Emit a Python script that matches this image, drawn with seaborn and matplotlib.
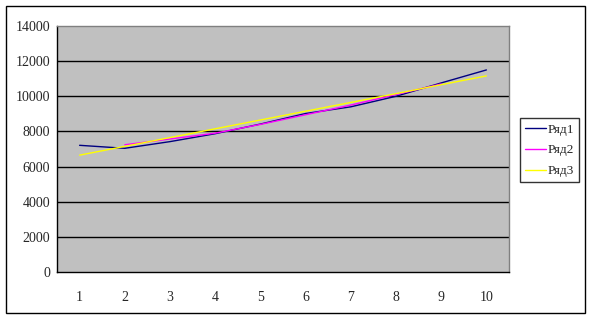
import numpy as np
import pandas as pd
import matplotlib
matplotlib.use("Agg")
import matplotlib.pyplot as plt
from matplotlib.patches import Rectangle
import seaborn as sns

# ---- data ----
categories = [1, 2, 3, 4, 5, 6, 7, 8, 9, 10]
series_names = ["Ряд1", "Ряд2", "Ряд3"]
ryad1 = [7210, 7040, 7420, 7870, 8420, 9020, 9400, 10000, 10760, 11500]
ryad2 = [np.nan, 7240, 7570, 7900, 8400, 8950, 9500, 10100, 10700, np.nan]
ryad3 = [6650, 7150, 7650, 8150, 8650, 9150, 9650, 10150, 10660, 11160]
y_ticks = [0, 2000, 4000, 6000, 8000, 10000, 12000, 14000]
colors = ["#000080", "#FF00FF", "#FFFF00"]

df = pd.DataFrame({
    "x": categories * 3,
    "y": ryad1 + ryad2 + ryad3,
    "series": [series_names[0]] * 10 + [series_names[1]] * 10 + [series_names[2]] * 10,
})

sns.set_style("white")
plt.rcParams["font.family"] = ["Liberation Serif", "DejaVu Serif"]

fig = plt.figure(figsize=(5.91, 3.19), dpi=100)
ax = fig.add_axes([57 / 591, 47 / 319, 452 / 591, 246 / 319])
ax.set_facecolor("#C0C0C0")

for t in y_ticks[1:-1]:
    ax.axhline(t, color="black", lw=1.0, zorder=1)

sns.lineplot(data=df, x="x", y="y", hue="series", palette=colors,
             estimator=None, lw=1.0, ax=ax, legend=False, zorder=3)

ax.set_xlim(0.5, 10.5)
ax.set_ylim(0, 14000)
ax.set_yticks(y_ticks)
ax.set_yticklabels([str(t) for t in y_ticks], fontsize=10)
ax.set_xticks(categories)
ax.set_xticklabels([str(c) for c in categories], fontsize=10)
ax.set_xticks(np.arange(0.5, 11, 1.0), minor=True)
ax.tick_params(axis="x", which="major", length=0, pad=14)
ax.tick_params(axis="x", which="minor", length=5, width=1, color="black", direction="out")
ax.tick_params(axis="y", which="major", length=4, width=1, color="black", direction="out", pad=1)
ax.set_xlabel("")
ax.set_ylabel("")

for s in ["left", "bottom"]:
    ax.spines[s].set_color("black")
    ax.spines[s].set_linewidth(1.0)
for s in ["top", "right"]:
    ax.spines[s].set_color("#808080")
    ax.spines[s].set_linewidth(1.0)

handles = [plt.Line2D([], [], color=c, lw=1.0) for c in colors]
leg = fig.legend(handles, series_names, loc="upper left",
                 bbox_to_anchor=(520 / 591, (319 - 118) / 319),
                 bbox_transform=fig.transFigure, fontsize=9.5,
                 frameon=True, fancybox=False, handlelength=1.6,
                 handletextpad=0.1, borderpad=0.4, labelspacing=0.65,
                 borderaxespad=0)
leg.get_frame().set_edgecolor("black")
leg.get_frame().set_linewidth(1.0)

fig.patches.append(Rectangle((5.5 / 591, 6 / 319), 579 / 591, 307.5 / 319,
                             transform=fig.transFigure, fill=False,
                             edgecolor="black", lw=1.0))

fig.savefig("out.png", dpi=100)
